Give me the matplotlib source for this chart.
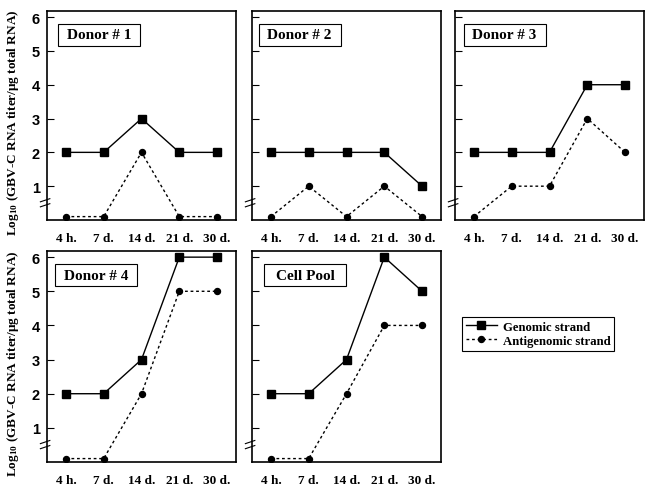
import matplotlib
matplotlib.use("Agg")
import matplotlib.pyplot as plt
from matplotlib.patches import Rectangle

plt.rcParams['mathtext.fontset'] = 'custom'
plt.rcParams['mathtext.rm'] = 'Liberation Serif:bold'
plt.rcParams['mathtext.it'] = 'Liberation Serif:italic:bold'
plt.rcParams['mathtext.bf'] = 'Liberation Serif:bold'
plt.rcParams['mathtext.default'] = 'rm'

timepoints = ["4 h.", "7 d.", "14 d.", "21 d.", "30 d."]
panel_titles = ["Donor # 1", "Donor # 2", "Donor # 3", "Donor # 4", "Cell Pool"]
genomic_d1 = [2, 2, 3, 2, 2]
antigenomic_d1 = [0.1, 0.1, 2, 0.1, 0.1]
genomic_d2 = [2, 2, 2, 2, 1]
antigenomic_d2 = [0.1, 1, 0.1, 1, 0.1]
genomic_d3 = [2, 2, 2, 4, 4]
antigenomic_d3 = [0.1, 1, 1, 3, 2]
genomic_d4 = [2, 2, 3, 6, 6]
antigenomic_d4 = [0.1, 0.1, 2, 5, 5]
genomic_pool = [2, 2, 3, 6, 5]
antigenomic_pool = [0.1, 0.1, 2, 4, 4]
yticks = [1, 2, 3, 4, 5, 6]

genomic = [genomic_d1, genomic_d2, genomic_d3, genomic_d4, genomic_pool]
antigenomic = [antigenomic_d1, antigenomic_d2, antigenomic_d3, antigenomic_d4, antigenomic_pool]

fig = plt.figure(figsize=(6.49, 4.89), dpi=100)
W, H = 649, 489
lefts = [47, 252, 455]
width = 189
rows = [(12, 221), (252, 463)]
box_left = [0.058, 0.035, 0.045, 0.042, 0.064]
ylabel = r'Log$_{10}$ (GBV-C RNA titer/μg total RNA)'

serif = 'Liberation Serif'
sans = 'Liberation Sans'

handles = None
for i in range(5):
    r, c = divmod(i, 3)
    top, bot = rows[r]
    ax = fig.add_axes([lefts[c] / W, 1 - bot / H, width / W, (bot - top) / H])
    x = list(range(len(timepoints)))
    lg, = ax.plot(x, genomic[i], color='black', lw=1.0, marker='s', markersize=5.8,
                  label='Genomic strand')
    la, = ax.plot(x, antigenomic[i], color='black', lw=1.0, linestyle=(0, (2, 2)),
                  marker='o', markersize=4.3, label='Antigenomic strand')
    handles = [lg, la]
    ax.set_xlim(-0.5, 4.5)
    ax.set_ylim(0, 6.18)
    ax.set_xticks(x)
    ax.set_xticklabels(timepoints, fontfamily=serif, fontweight='bold', fontsize=9.5)
    ax.tick_params(axis='x', length=0, pad=9)
    ax.set_yticks(yticks)
    ax.tick_params(axis='y', direction='in', length=5, width=0.8, pad=5)
    if c == 0:
        ax.set_yticklabels([str(v) for v in yticks], fontfamily=sans, fontweight='bold', fontsize=10.5)
        ax.set_ylabel(ylabel, fontfamily=serif, fontweight='bold', fontsize=9.5)
        ax.yaxis.set_label_coords(-0.14, 0.47)
    else:
        ax.set_yticklabels([])
    for s in ax.spines.values():
        s.set_linewidth(1.2)
    # axis break marks
    for dy in (-0.012, 0.012):
        ax.plot([-0.035, 0.015], [0.075 + dy, 0.09 + dy], transform=ax.transAxes,
                color='black', lw=0.8, clip_on=False)
    bw, bh = 0.434, 0.108
    bx, by = box_left[i], 0.832
    ax.add_patch(Rectangle((bx, by), bw, bh, transform=ax.transAxes, facecolor='white',
                           edgecolor='black', lw=0.8, zorder=5))
    ax.text(bx + bw / 2, by + bh / 2, panel_titles[i], transform=ax.transAxes, fontfamily=serif,
            fontweight='bold', fontsize=11, va='center', ha='center', zorder=6)

leg = fig.legend(handles=handles, loc='upper left', bbox_to_anchor=(462 / W, 1 - 318 / H),
                 prop={'family': serif, 'weight': 'bold', 'size': 9.2},
                 frameon=True, fancybox=False, edgecolor='black', framealpha=1,
                 handlelength=2.4, handletextpad=0.5, borderpad=0.3, labelspacing=0.15,
                 borderaxespad=0)
leg.get_frame().set_linewidth(0.8)

fig.savefig('out.png', dpi=100)
